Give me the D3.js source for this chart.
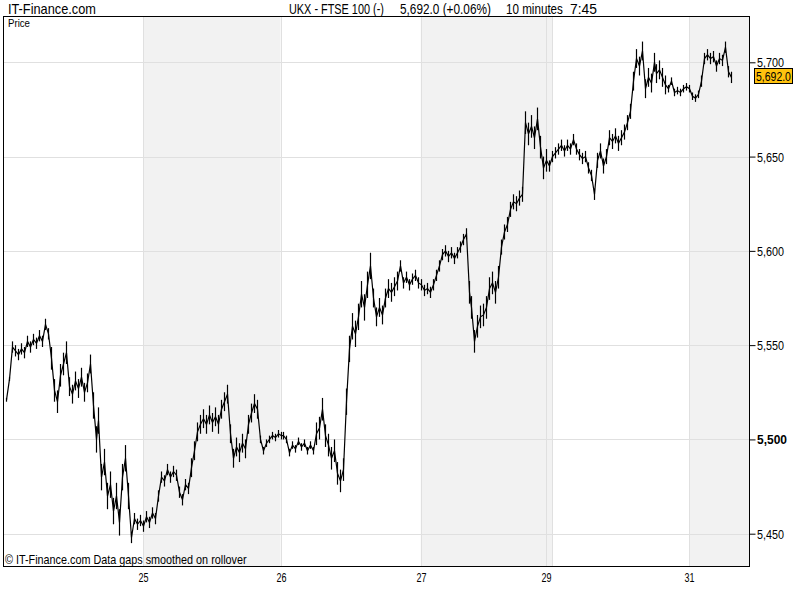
<!DOCTYPE html>
<html><head><meta charset="utf-8">
<script src="https://cdn.jsdelivr.net/npm/d3@7/dist/d3.min.js"></script>
<style>
body{margin:0;background:#fff;}
text{font-family:"Liberation Sans",Arial,sans-serif;}
</style></head><body>
<svg id="c" width="800" height="600"></svg>
<script>
// ---- data ----
const title = "IT-Finance.com";
const headerParts = ["UKX - FTSE 100 (-)", "5,692.0 (+0.06%)", "10 minutes", "7:45"];
const footer = "\u00A9 IT-Finance.com  Data gaps smoothed on rollover";
const lastPrice = 5692.0;
const yTicks = [5450, 5500, 5550, 5600, 5650, 5700];
const boldTick = 5500;
const dayLabels = ["25", "26", "27", "29", "31"];
const dayStarts = [47, 93, 140, 182, 230];     // slot index where each labelled day starts
const extraBreaks = [184];                       // session break without label
const shadedRanges = [[47, 93], [140, 184], [230, 250]];
const totalSlots = 250;
const startSlot = 1;
const prices = [
 5521,5532,5549,5547,5545,5548,5546,5552,5549,5553,5551,5555,5552,5561,5556,5543,5526,5520,5534,5540,
 5546,5528,5524,5531,5527,5533,5525,5530,5540,5518,5500,5510,5480,5488,5470,5476,5462,5470,5456,5480,
 5490,5470,5448,5458,5455,5457,5454,5459,5456,5461,5458,5470,5480,5478,5484,5480,5483,5481,5472,5468,
 5476,5474,5485,5494,5504,5508,5511,5508,5513,5509,5512,5508,5516,5520,5524,5503,5490,5496,5493,5498,
 5495,5508,5514,5519,5516,5500,5494,5498,5500,5502,5501,5503,5502,5502,5500,5493,5497,5495,5499,5496,
 5498,5494,5497,5494,5503,5506,5516,5502,5497,5490,5494,5482,5478,5484,5520,5548,5560,5556,5565,5577,
 5570,5582,5592,5575,5565,5570,5566,5575,5580,5578,5581,5584,5592,5583,5586,5582,5585,5587,5583,5582,
 5579,5580,5578,5582,5587,5592,5598,5600,5597,5599,5596,5599,5602,5606,5609,5578,5570,5552,5560,5565,
 5566,5570,5580,5583,5578,5586,5602,5610,5614,5622,5626,5625,5628,5630,5668,5662,5666,5660,5670,5655,
 5644,5648,5645,5650,5652,5654,5656,5653,5656,5654,5659,5654,5651,5649,5650,5644,5640,5630,5648,5653,
 5645,5650,5660,5658,5661,5657,5660,5663,5668,5674,5690,5702,5698,5706,5686,5692,5689,5700,5694,5696,
 5692,5688,5686,5690,5684,5685,5684,5686,5687,5686,5682,5681,5683,5690,5702,5704,5702,5703,5698,5702,
 5701,5708,5695,5692
];
// estimated intra-bar swing (half range, index points) by stretch of slots: [from, to, half-range]
const swingRegions = [
 [1, 2, 1], [3, 15, 3], [16, 21, 6], [22, 29, 5], [30, 42, 7], [43, 62, 3], [63, 85, 5],
 [86, 104, 2], [105, 114, 6], [115, 123, 7], [124, 132, 5], [133, 155, 3], [156, 166, 6],
 [167, 174, 4], [175, 182, 6], [183, 198, 3], [199, 210, 4], [211, 222, 5], [223, 233, 2], [234, 244, 3]
];
const series = prices.map((p, i) => {
  const s = startSlot + i;
  const reg = swingRegions.find(r => s >= r[0] && s <= r[1]);
  return {slot: s, price: p, swing: reg ? reg[2] : 0};
});

// ---- layout ----
const svg = d3.select("#c");
const L = 3, R = 749, T = 16, B = 566;
const x = d3.scaleLinear().domain([0, totalSlots]).range([L, R]);
const y = d3.scaleLinear().domain([5450, 5700]).range([533.7, 62.3]);

// shaded day bands
svg.append("g").selectAll("rect").data(shadedRanges).join("rect")
  .attr("x", d => x(d[0])).attr("y", T)
  .attr("width", d => x(d[1]) - x(d[0])).attr("height", B - T)
  .attr("fill", "#f2f2f2");

// horizontal grid
svg.append("g").selectAll("line").data(yTicks).join("line")
  .attr("x1", L).attr("x2", R)
  .attr("y1", d => Math.round(y(d)) + 0.5).attr("y2", d => Math.round(y(d)) + 0.5)
  .attr("stroke", "#e0e0e0");

// vertical day grid
svg.append("g").selectAll("line").data(dayStarts.concat(extraBreaks)).join("line")
  .attr("x1", d => Math.round(x(d)) + 0.5).attr("x2", d => Math.round(x(d)) + 0.5)
  .attr("y1", T).attr("y2", B)
  .attr("stroke", "#e0e0e0");

// intra-bar swings
svg.append("g").selectAll("line").data(series).join("line")
  .attr("x1", d => Math.round(x(d.slot)) + 0.5).attr("x2", d => Math.round(x(d.slot)) + 0.5)
  .attr("y1", d => y(d.price + d.swing)).attr("y2", d => y(d.price - d.swing))
  .attr("stroke", "#000").attr("stroke-width", 1.2);

// price line
svg.append("path").datum(series)
  .attr("fill", "none").attr("stroke", "#000").attr("stroke-width", 1.2)
  .attr("d", d3.line().x(d => Math.round(x(d.slot)) + 0.5).y(d => y(d.price)));

// plot border
svg.append("rect").attr("x", L + 0.5).attr("y", T + 0.5)
  .attr("width", R - L).attr("height", B - T)
  .attr("fill", "none").attr("stroke", "#000");

// place a condensed text: left x, baseline y, target width w
function narrowText(parent, str, x0, y0, w, size, weight, anchor) {
  const t = parent.append("text").attr("font-size", size).attr("font-weight", weight || "normal").text(str);
  const nat = t.node().getComputedTextLength();
  const k = w / nat;
  const left = anchor === "middle" ? x0 - w / 2 : x0;
  t.attr("transform", `translate(${left},${y0}) scale(${k},1)`);
  return t;
}

// right axis ticks (via d3 axis), labels condensed
const yAxis = svg.append("g").attr("transform", `translate(${R + 0.5},0)`)
  .call(d3.axisRight(y).tickValues(yTicks).tickSize(6).tickFormat(""));
yAxis.select(".domain").remove();
yAxis.selectAll("line").attr("stroke", "#000");
const fmt = d3.format(",");
yTicks.forEach(v => {
  narrowText(svg, fmt(v), 757, Math.round(y(v)) + 4.5, v === boldTick ? 30 : 27, 12, v === boldTick ? "bold" : "normal");
});

// bottom day labels
const xAxis = svg.append("g").attr("transform", `translate(0,${B})`)
  .call(d3.axisBottom(x).tickValues(dayStarts).tickSize(0).tickFormat(""));
xAxis.select(".domain").remove();
dayStarts.forEach((s, i) => narrowText(svg, dayLabels[i], Math.round(x(s)) + 0.5, 582, 10, 12, "normal", "middle"));

// last price box
const ly = y(lastPrice);
svg.append("rect").attr("x", 754.5).attr("y", Math.round(ly) - 8.5).attr("width", 38).attr("height", 15)
  .attr("fill", "#ffc20e").attr("stroke", "#000");
narrowText(svg, d3.format(",.1f")(lastPrice), 756, Math.round(ly) + 3.5, 35, 12);

// header
narrowText(svg, title, 8, 14, 88, 14);
const headerX = [289, 400, 506, 570];
const headerW = [95, 91, 57, 27];
headerParts.forEach((p, i) => narrowText(svg, p, headerX[i], 14, headerW[i], 14));
narrowText(svg, "Price", 8, 27, 22, 10);
narrowText(svg, footer, 5, 564, 242, 12);
</script>
</body></html>
